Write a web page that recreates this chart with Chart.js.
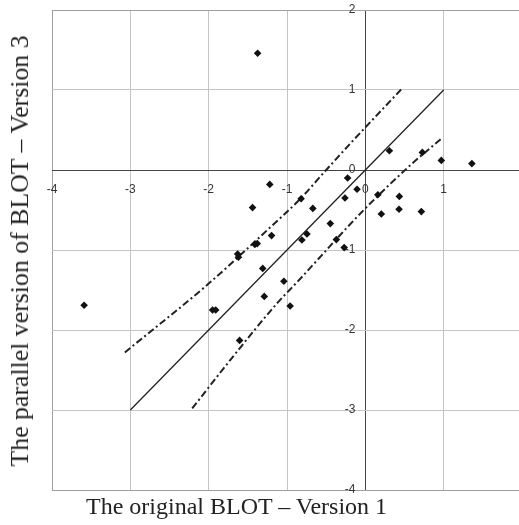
<!DOCTYPE html>
<html><head><meta charset="utf-8">
<script src="https://cdn.jsdelivr.net/npm/chart.js@4.4.1/dist/chart.umd.min.js"></script>
<style>
html,body{margin:0;padding:0;background:#fff;overflow:hidden;width:519px;height:525px;}
#wrap{position:relative;width:519px;height:525px;overflow:hidden;}
#c{position:absolute;left:0;top:0;}
.t{position:absolute;font-family:"Liberation Serif","Times New Roman",serif;color:#222;white-space:nowrap;}
#xt{left:86px;top:494px;font-size:24px;line-height:24px;}
#yt{left:20px;top:251px;font-size:25.8px;line-height:26px;transform:translate(-50%,-50%) rotate(-90deg);}
</style></head><body>
<div id="wrap"><canvas id="c" width="526" height="525"></canvas>
<div id="xt" class="t"></div><div id="yt" class="t"></div></div>
<script>
const xTitle = "The original BLOT – Version 1";
const yTitle = "The parallel version of BLOT – Version 3";
const xTicks = [-4, -3, -2, -1, 0, 1, 2];
const yTicks = [-4, -3, -2, -1, 0, 1, 2];
const xLabels = ["-4", "-3", "-2", "-1", "0", "1", ""];
const yLabels = ["-4", "-3", "-2", "-1", "0", "1", "2"];

const blotV1 = [-1.375, 0.307, 0.728, 0.97, 1.36, -1.22, -0.226, -0.106, 0.16, 0.434,
  -0.82, -0.26, -1.44, -0.67, 0.43, 0.715, 0.204, -0.447, -1.197, -0.745,
  -0.81, -0.37, -1.41, -1.38, -0.27, -1.63, -1.62, -1.31, -1.04, -1.29,
  -0.96, -3.59, -1.95, -1.91, -1.605];
const blotV3 = [1.46, 0.24, 0.22, 0.12, 0.08, -0.18, -0.10, -0.24, -0.31, -0.33,
  -0.36, -0.35, -0.47, -0.48, -0.49, -0.52, -0.55, -0.67, -0.82, -0.80,
  -0.875, -0.87, -0.93, -0.92, -0.97, -1.05, -1.09, -1.23, -1.39, -1.58,
  -1.70, -1.69, -1.75, -1.75, -2.13];

const identityX = [-3, 1];
const identityY = [-3, 1];
const upperX = [-3.07, -2.0, -1.24, -0.84, -0.5, -0.15, 0.46];
const upperY = [-2.28, -1.42, -0.74, -0.37, 0.0, 0.375, 1.01];
const lowerX = [-2.21, -1.72, -1.13, -0.87, -0.02, 0.575, 0.98];
const lowerY = [-2.98, -2.37, -1.67, -1.40, -0.50, 0.06, 0.40];

document.getElementById('xt').textContent = xTitle;
document.getElementById('yt').textContent = yTitle;

const pts = (xs, ys) => xs.map((x, i) => ({x: x, y: ys[i]}));
const edgeGrid = (v) => (v === -4 || v === 2) ? '#a0a0a0' : '#c4c4c4';
const tickFont = {family: "'Liberation Sans', Arial, sans-serif", size: 12};
const noPad = s => { s.paddingTop = 0; s.paddingBottom = 0; s.paddingLeft = 0; s.paddingRight = 0; };
const yLabelGap = 10 / 78.33;  // y tick labels sit 10px left of the x=0 axis line

new Chart(document.getElementById('c'), {
  type: 'scatter',
  data: {
    datasets: [
      {data: pts(blotV1, blotV3), pointStyle: 'rectRot', pointRadius: 3.8, pointBackgroundColor: '#111', pointBorderWidth: 0, showLine: false, order: 0},
      {data: pts(identityX, identityY), showLine: true, pointRadius: 0, borderColor: '#222', borderWidth: 1.3, order: 1},
      {data: pts(upperX, upperY), showLine: true, pointRadius: 0, borderColor: '#222', borderWidth: 2, borderDash: [7, 3, 2, 3], cubicInterpolationMode: 'monotone', order: 1},
      {data: pts(lowerX, lowerY), showLine: true, pointRadius: 0, borderColor: '#222', borderWidth: 2, borderDash: [7, 3, 2, 3], cubicInterpolationMode: 'monotone', order: 1}
    ]
  },
  options: {
    responsive: false, animation: false, devicePixelRatio: 1,
    layout: {padding: {left: 52, top: 10, right: 0, bottom: 35}},
    plugins: {legend: {display: false}, tooltip: {enabled: false}, title: {display: false}},
    scales: {
      x: {
        type: 'linear', min: -4, max: 2, position: {y: 0},
        afterBuildTicks: s => { s.ticks = xTicks.map(v => ({value: v})); },
        afterFit: noPad,
        grid: {color: (ctx) => (ctx.tick && ctx.tick.value === 0) ? '#444' : edgeGrid(ctx.tick && ctx.tick.value), lineWidth: 1, drawTicks: false},
        border: {display: true, color: '#444', width: 1},
        ticks: {padding: 12, color: '#333', font: tickFont, maxRotation: 0, autoSkip: false,
          callback: (v) => { const i = xTicks.indexOf(v); return i >= 0 ? xLabels[i] : ''; }}
      },
      y: {
        type: 'linear', min: -4, max: 2, position: {x: -yLabelGap},
        afterBuildTicks: s => { s.ticks = yTicks.map(v => ({value: v})); },
        afterFit: noPad,
        grid: {color: (ctx) => edgeGrid(ctx.tick && ctx.tick.value), lineWidth: 1, drawTicks: false},
        border: {display: false},
        ticks: {padding: 0, color: '#333', font: tickFont, autoSkip: false,
          callback: (v) => { const i = yTicks.indexOf(v); return i >= 0 ? yLabels[i] : ''; }}
      }
    }
  }
});
</script>
</body></html>
